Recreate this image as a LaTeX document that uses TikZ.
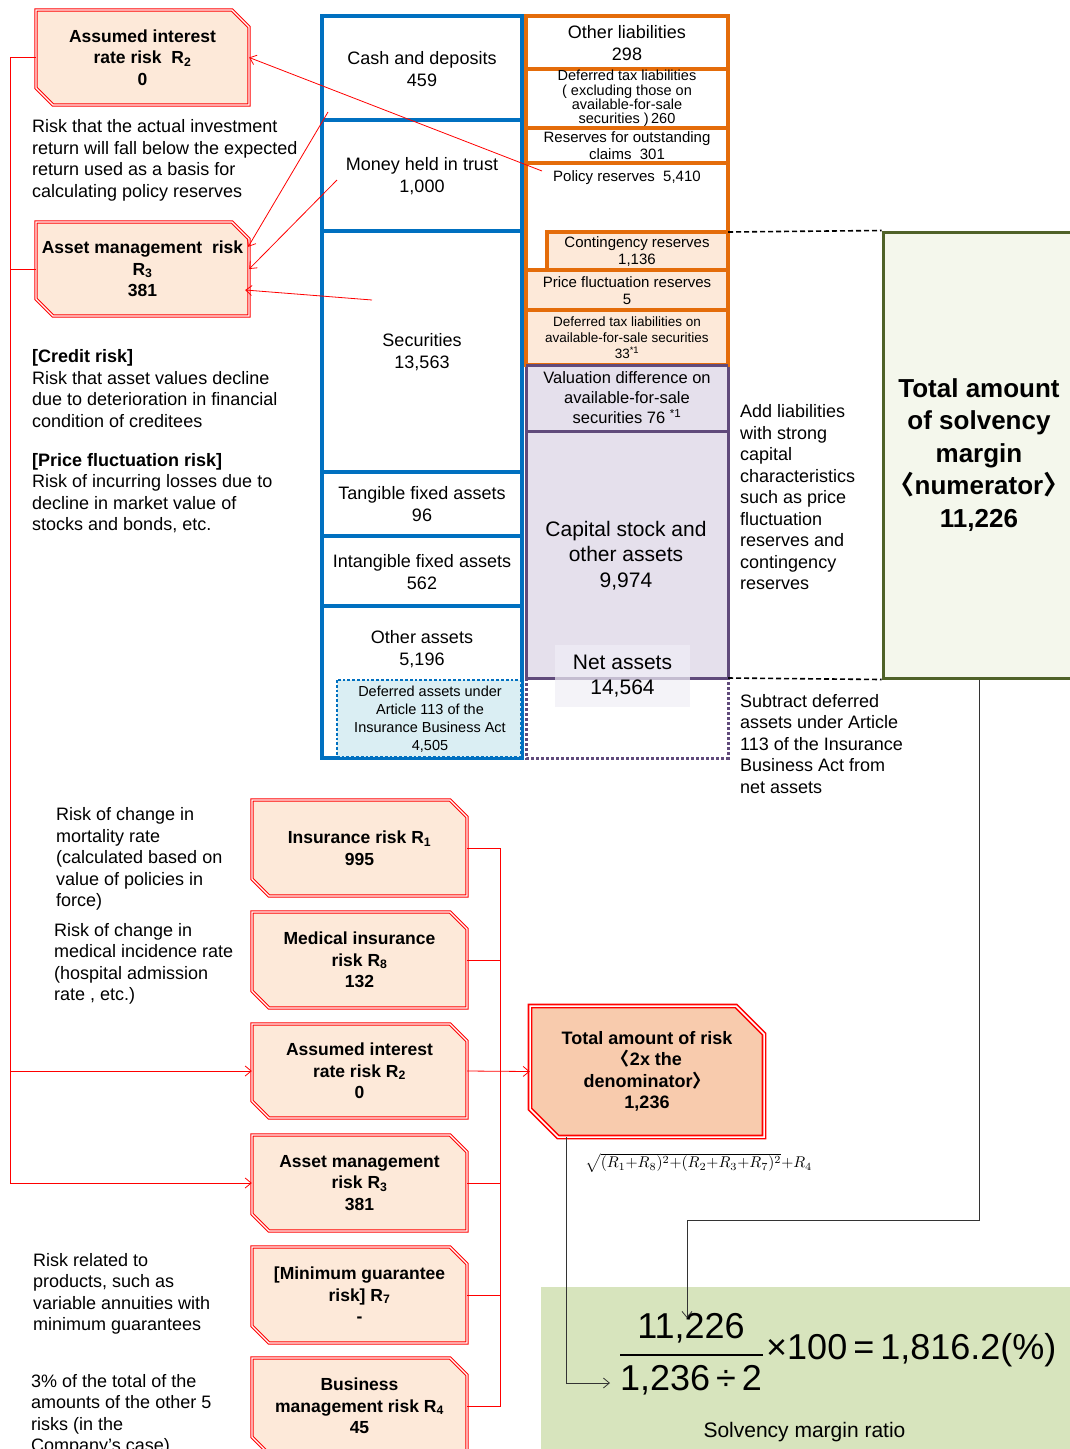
\documentclass[tikz,border=0pt]{standalone}
\usepackage{fontspec}
\setmainfont{Liberation Sans}
\newfontfamily\cjk{Noto Sans CJK SC}
\usetikzlibrary{arrows.meta}
\definecolor{peach}{HTML}{FDE9D9}
\definecolor{peachd}{HTML}{F8CBAD}
\definecolor{bsblue}{HTML}{0070C0}
\definecolor{bsorange}{HTML}{E46C0A}
\definecolor{bspurple}{HTML}{604A7B}
\definecolor{lav}{HTML}{E5E0EC}
\definecolor{lblue}{HTML}{DAEEF3}
\definecolor{dgreen}{HTML}{4F6228}
\definecolor{lgreen}{HTML}{F4F7EC}
\definecolor{mgreen}{HTML}{D7E4BD}
\definecolor{rred}{HTML}{FF0000}
\definecolor{netfill}{HTML}{F0EEF6}
\newcommand\rbox[8]{%
  \pgfmathsetmacro\bw{#4-#2}\pgfmathsetmacro\bh{#5-#3}%
  \filldraw[redge, fill=#7] (#2,#3) -- (#4-#6,#3) -- (#4,#3+#6) -- (#4,#5) -- (#2+#6,#5) -- (#2,#5-#6) -- cycle;
  \node[rtext, minimum width=\bw pt, minimum height=\bh pt] (#1) at ({(#2+#4)/2},{(#3+#5)/2}) {#8};
}
\begin{document}
\begin{tikzpicture}[x=1pt,y=-1pt,
  every node/.style={inner sep=0pt, align=center},
  redge/.style={draw=rred, line width=1pt, double=white, double distance=1.3pt},
  redgeb/.style={draw=rred, line width=1.7pt, double=white, double distance=1.5pt},
  rtext/.style={font=\fontsize{17.5}{21.5}\selectfont\bfseries},
  btxt/.style={font=\fontsize{18}{21.5}\selectfont, align=left, anchor=west},
  rarr/.style={draw=rred, line width=0.8pt, -{Straight Barb[length=6pt,width=10pt]}},
  rline/.style={draw=rred, line width=0.8pt},
  karr/.style={draw=black!80, line width=0.8pt, -{Straight Barb[length=6pt,width=10pt]}},
  bluebox/.style={draw=bsblue, line width=3.5pt},
  orbox/.style={draw=bsorange, line width=3.3pt},
  pubox/.style={draw=bspurple, line width=3pt},
  fA/.style={font=\fontsize{18}{22}\selectfont},
  fB/.style={font=\fontsize{15}{17}\selectfont},
  fC/.style={font=\fontsize{14.5}{14.3}\selectfont},
  fD/.style={font=\fontsize{13.5}{16}\selectfont},
  fE/.style={font=\fontsize{16.5}{20}\selectfont},
  fF/.style={font=\fontsize{21}{25.5}\selectfont},
  fG/.style={font=\fontsize{14.5}{18}\selectfont},
  fH/.style={font=\fontsize{36}{40}\selectfont},
  kdash/.style={draw=black, line width=1.6pt, dash pattern=on 5pt off 3pt}
]
\useasboundingbox (0,0) rectangle (1070,1449);
\fill[white] (0,0) rectangle (1070,1449);

% ---------- result area ----------
\fill[mgreen] (541,1287) rectangle (1075,1455);

% ---------- assets column ----------
\draw[bluebox] (322,16) rectangle (522,120);
\draw[bluebox] (322,120) rectangle (522,231);
\draw[bluebox] (322,231) rectangle (522,472);
\draw[bluebox] (322,472) rectangle (522,536);
\draw[bluebox] (322,536) rectangle (522,606);
\draw[bluebox] (322,606) rectangle (522,758);
\filldraw[fill=lblue, draw=bsblue, line width=2.8pt, dotted] (337,680) rectangle (521,757);

\node[fA] (cash) at (422,69) {Cash and deposits\\459};
\node[fA] (trust) at (422,176) {Money held in trust\\1,000};
\node[fA] (secu) at (422,352.5) {Securities\\13,563};
\node[fA] (tang) at (422,504.5) {Tangible fixed assets\\96};
\node[fA] (intang) at (422,572.5) {Intangible fixed assets\\562};
\node[fA] (otha) at (422,649.5) {Other assets\\5,196};
\node[fG] (defa) at (430,719) {Deferred assets under\\Article 113 of the\\Insurance Business Act\\4,505};

% ---------- liabilities column ----------
\filldraw[pubox, fill=lav] (526,365) rectangle (728,431);
\filldraw[pubox, fill=lav] (526,431) rectangle (728,678);
\draw[pubox, dotted] (526,678) rectangle (728,758);
\draw[orbox] (526,16) rectangle (728,69);
\draw[orbox] (526,69) rectangle (728,128);
\draw[orbox] (526,128) rectangle (728,163);
\draw[orbox] (526,163) rectangle (728,270);
\filldraw[orbox, fill=peach] (547,232) rectangle (728,270);
\filldraw[orbox, fill=peach] (526,270) rectangle (728,310);
\filldraw[orbox, fill=peach] (526,310) rectangle (728,365);
\draw[pubox] (526,365) -- (728,365);

\node[fA] (othl) at (627,43) {Other liabilities\\298};
\node[fC] (dtl) at (627,98.5) {Deferred tax liabilities\\( excluding those on\\available-for-sale\\securities )\,260};
\node[fB] (resv) at (627,145.5) {Reserves for outstanding\\claims~ 301};
\node[fB] (polr) at (627,178) {Policy reserves~ 5,410};
\node[fB] (cont) at (637,252) {Contingency reserves\\1,136};
\node[fB] (pfr) at (627,291) {Price fluctuation reserves\\5};
\node[fD] (dtafs) at (627,338) {Deferred tax liabilities on\\available-for-sale securities\\33\textsuperscript{*1}};
\node[fE] (valdif) at (627,398) {Valuation difference on\\available-for-sale\\securities 76 \textsuperscript{*1}};
\node[fF] (capst) at (626,555.5) {Capital stock and\\other assets\\9,974};
\node[fF, fill=netfill, fill opacity=0.7, text opacity=1, minimum width=135pt, minimum height=62pt] (net) at (622.5,676) {Net assets\\14,564};

% ---------- dashed guides and numerator ----------
\node[draw=dgreen, fill=lgreen, line width=3pt, minimum width=192pt, minimum height=446pt,
      font=\fontsize{26}{32.5}\selectfont\bfseries] (G) at (979,455)
      {Total amount\\of solvency\\margin\\{\cjk 〈}numerator{\cjk 〉}\\11,226};
\draw[kdash] (728,232) -- (G.north west);
\draw[kdash] (728,678) -- (G.south west);

\node[btxt] (addl) at (740,497.5) {Add liabilities\\with strong\\capital\\characteristics\\such as price\\fluctuation\\reserves and\\contingency\\reserves};
\node[btxt] (subd) at (740,744) {Subtract deferred\\assets under Article\\113 of the Insurance\\Business Act from\\net assets};

% ---------- top risk boxes ----------
\rbox{Rtwo}{36}{10}{249}{105}{17}{peach}{Assumed interest\\rate risk~ R\textsubscript{2}\\0}
\rbox{Rthree}{36}{222}{249}{316}{17}{peach}{Asset management~ risk\\R\textsubscript{3}\\381}

\node[btxt] (t1) at (32,160.5) {Risk that the actual investment\\return will fall below the expected\\return used as a basis for\\calculating policy reserves};
\node[btxt] (t2) at (32,388.5) {\textbf{[Credit risk]}\\Risk that asset values decline\\due to deterioration in financial\\condition of creditees};
\node[btxt] (t3) at (32,493) {\textbf{[Price fluctuation risk]}\\Risk of incurring losses due to\\decline in market value of\\stocks and bonds, etc.};

% ---------- lower risk boxes ----------
\rbox{Ra}{252}{800}{467}{896}{17}{peach}{Insurance risk R\textsubscript{1}\\995}
\rbox{Rb}{252}{912}{467}{1008}{17}{peach}{Medical insurance\\risk R\textsubscript{8}\\132}
\rbox{Rc}{252}{1024}{467}{1118}{17}{peach}{Assumed interest\\rate risk R\textsubscript{2}\\0}
\rbox{Rd}{252}{1135}{467}{1231}{17}{peach}{Asset management\\risk R\textsubscript{3}\\381}
\rbox{Re}{252}{1247}{467}{1343}{17}{peach}{[Minimum guarantee\\risk] R\textsubscript{7}\\-}
\rbox{Rf}{252}{1358}{467}{1454}{17}{peach}{Business\\management risk R\textsubscript{4}\\45}

\node[btxt] (t4) at (56,859) {Risk of change in\\mortality rate\\(calculated based on\\value of policies in\\force)};
\node[btxt] (t5) at (54,964) {Risk of change in\\medical incidence rate\\(hospital admission\\rate , etc.)};
\node[btxt] (t6) at (33,1294) {Risk related to\\products, such as\\variable annuities with\\minimum guarantees};
\node[btxt] (t7) at (31,1415) {3\% of the total of the\\amounts of the other 5\\risks (in the\\Company’s case)};

% ---------- total risk box ----------
\filldraw[redgeb, fill=peachd] (530,1006) -- (736,1006) -- (764,1034) -- (764,1137) -- (558,1137) -- (530,1109) -- cycle;
\node[rtext, font=\fontsize{18}{21.5}\selectfont\bfseries, minimum width=234pt, minimum height=131pt] (Tot) at (647,1071.5)
  {Total amount of risk\\{\cjk 〈}2x the\\denominator{\cjk 〉}\\1,236};
\node[anchor=west] (sq) at (585,1163) {\resizebox{227pt}{!}{\medmuskip=1mu\relax$\sqrt{(R_1{+}R_8)^2{+}(R_2{+}R_3{+}R_7)^2}{+}R_4$}};

% ---------- red connectors ----------
\coordinate (lb) at (10,0);
\coordinate (rb) at (500,0);
\draw[rarr] (Rtwo.west) -- (Rtwo.west -| lb) |- (Rd.west);
\draw[rline] (Rthree.west) -- (Rthree.west -| lb);
\draw[rarr] (Rc.west -| lb) -- (Rc.west);
\draw[rline] (Ra.east) -- (Ra.east -| rb) |- (Rf.east);
\draw[rline] (Rb.east) -- (Rb.east -| rb);
\draw[rline] (Rd.east) -- (Rd.east -| rb);
\draw[rline] (Re.east) -- (Re.east -| rb);
\draw[rarr] (Rc.east) -- (Tot.west);

\coordinate (p1) at (542,171);
\coordinate (p2) at (328,112);
\coordinate (p3) at (337,180);
\coordinate (p4) at (372,300);
\draw[rarr] (p1) -- (Rtwo.east);
\draw[rarr] (p2) -- ([shift={(-1pt,-25pt)}]Rthree.north east);
\draw[rarr] (p3) -- (Rthree.east);
\draw[rarr] (p4) -- ([shift={(-4pt,-21pt)}]Rthree.east);

% ---------- ratio ----------
\node[fH] (num) at (691,1328.5) {11,226};
\node[fH] (den) at (691,1380) {1,236\,÷\,2};
\draw[line width=1.6pt] (620,1355) -- (763,1355);
\node[fH, anchor=west] (res) at (766,1350) {×100\,=\,1,816.2(\%)};
\node[font=\fontsize{21}{25}\selectfont] (smr) at (804.5,1432) {Solvency margin ratio};

% ---------- black connectors ----------
\coordinate (kb) at (0,1220);
\coordinate (na) at (687,1318);
\coordinate (da) at (610,1383);
\draw[karr] (G.south) -- (G.south |- kb) -| (na);
\draw[karr] ([xshift=37pt]Tot.south west) |- (da);
\end{tikzpicture}
\end{document}
